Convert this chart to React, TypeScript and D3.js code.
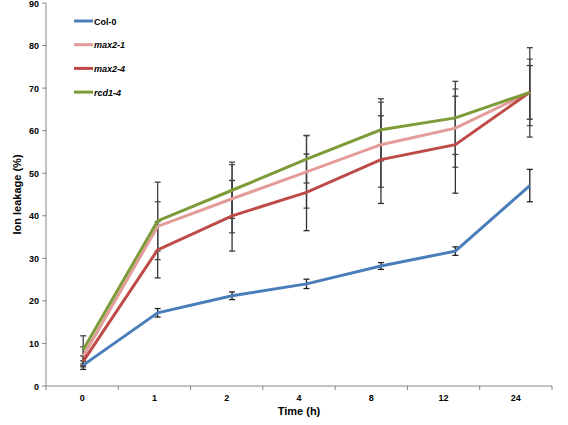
import React from "react";
import * as d3 from "d3";

const categories = ["0", "1", "2", "4", "8", "12", "24"];
const yTicks = [0, 10, 20, 30, 40, 50, 60, 70, 80, 90];

const seriesNames = ["Col-0", "max2-1", "max2-4", "rcd1-4"];
const col0 = [4.9, 17.2, 21.2, 24.0, 28.2, 31.7, 47.1];
const max21 = [7.0, 37.5, 44.0, 50.3, 56.7, 60.6, 69.0];
const max24 = [5.8, 32.0, 40.0, 45.5, 53.2, 56.7, 69.0];
const rcd14 = [8.5, 38.8, 46.0, 53.3, 60.2, 63.0, 69.0];

const col0Err = [1.0, 1.0, 0.9, 1.1, 0.8, 1.0, 3.8];
const max21Err = [2.2, 5.8, 8.0, 8.5, 10.0, 9.2, 7.8];
const max24Err = [1.3, 6.6, 8.3, 9.0, 10.3, 11.4, 6.3];
const rcd14Err = [3.3, 9.1, 6.6, 5.6, 7.3, 8.6, 10.5];

const colors = ["#4a7ebb", "#e39c9a", "#be4b48", "#7e9b3a"];
const errColors = ["#222", "#555", "#333", "#444"];
const italic = [false, true, true, true];

const W = 568;
const H = 425;

export default function App() {
  const values = [col0, max21, max24, rcd14];
  const errors = [col0Err, max21Err, max24Err, rcd14Err];

  const xAxis = d3.scaleBand<string>().domain(categories).range([46, 552]);
  const xData = d3.scaleBand<string>().domain(categories).range([46, 567]);
  const y = d3.scaleLinear().domain([0, 90]).range([386, 3]);

  const line = d3
    .line<number>()
    .x((_, i) => (xData(categories[i]) as number) + xData.bandwidth() / 2)
    .y((d) => y(d));

  const font = "'Liberation Sans', Arial, sans-serif";
  const boundaries = d3.range(categories.length + 1).map((i) => 46 + i * xAxis.step());

  return (
    <svg
      width={W}
      height={H}
      style={{ position: "absolute", left: 0, top: 0, background: "#fff" }}
      fontFamily={font}
    >
      {/* axes */}
      <line x1={46} x2={46} y1={3} y2={386} stroke="#868686" strokeWidth={1} />
      <line x1={46} x2={552} y1={386} y2={386} stroke="#868686" strokeWidth={1} />
      {yTicks.map((t) => (
        <g key={t}>
          <line x1={42} x2={46} y1={y(t)} y2={y(t)} stroke="#868686" />
          <text x={39} y={y(t) + 3.5} textAnchor="end" fontSize={9} fontWeight="bold" fill="#000">
            {t}
          </text>
        </g>
      ))}
      {boundaries.map((bx, i) => (
        <line key={i} x1={bx} x2={bx} y1={386} y2={390} stroke="#868686" />
      ))}
      {categories.map((c) => (
        <text
          key={c}
          x={(xAxis(c) as number) + xAxis.bandwidth() / 2}
          y={401}
          textAnchor="middle"
          fontSize={9}
          fontWeight="bold"
          fill="#000"
        >
          {c}
        </text>
      ))}
      <text x={299} y={415} textAnchor="middle" fontSize={11} fontWeight="bold">
        Time (h)
      </text>
      <text
        transform={`translate(21,${y(45)}) rotate(-90)`}
        textAnchor="middle"
        fontSize={11}
        fontWeight="bold"
      >
        Ion leakage (%)
      </text>

      {/* error bars (under the lines) */}
      {values.map((vals, si) =>
        vals.map((v, i) => {
          const cx = (xData(categories[i]) as number) + xData.bandwidth() / 2;
          const e = errors[si][i];
          const y1 = y(v + e);
          const y2 = y(v - e);
          return (
            <g key={`${si}-${i}`} stroke={errColors[si]} strokeWidth={1.3}>
              <line x1={cx} x2={cx} y1={y1} y2={y2} />
              <line x1={cx - 3} x2={cx + 3} y1={y1} y2={y1} />
              <line x1={cx - 3} x2={cx + 3} y1={y2} y2={y2} />
            </g>
          );
        })
      )}

      {/* lines */}
      {values.map((vals, si) => (
        <path key={si} d={line(vals) as string} fill="none" stroke={colors[si]} strokeWidth={3} />
      ))}

      {/* legend */}
      {seriesNames.map((n, i) => {
        const ly = 21 + i * 23.7;
        return (
          <g key={n}>
            <line x1={74} x2={93} y1={ly} y2={ly} stroke={colors[i]} strokeWidth={3} />
            <text
              x={94}
              y={ly + 3.5}
              fontSize={9}
              fontWeight="bold"
              fontStyle={italic[i] ? "italic" : "normal"}
            >
              {n}
            </text>
          </g>
        );
      })}
    </svg>
  );
}
